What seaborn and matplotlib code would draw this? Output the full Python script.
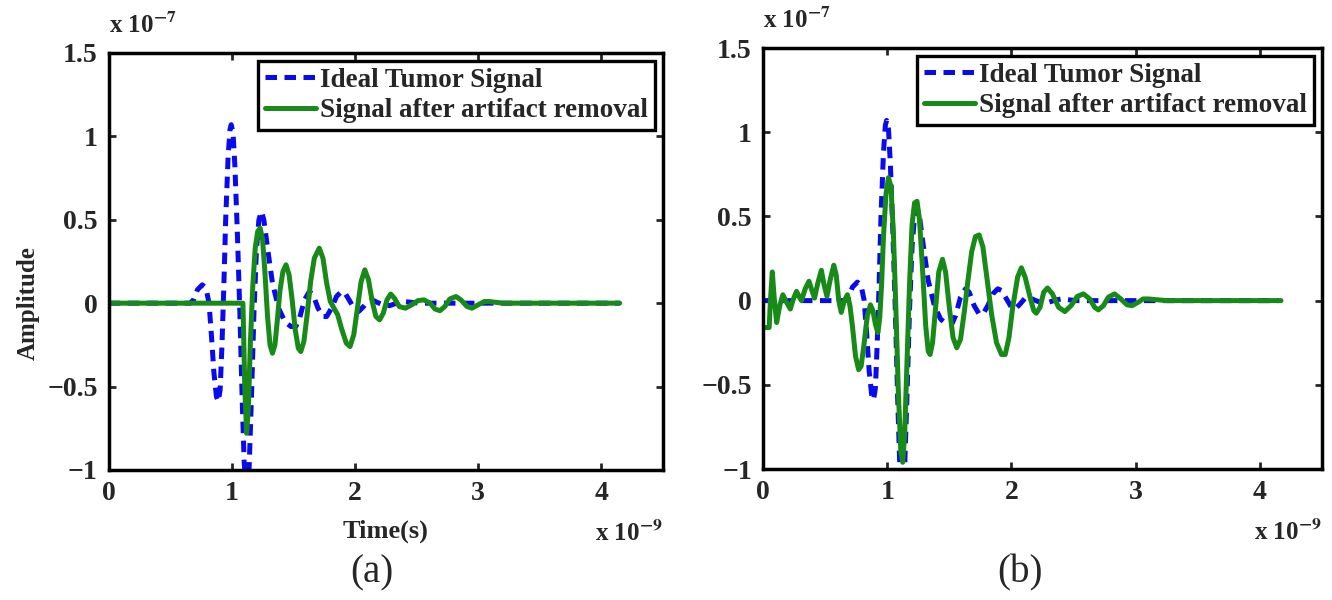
import numpy as np
import pandas as pd
import seaborn as sns
import matplotlib.pyplot as plt

# values (time in 1e-9 s, amplitude in 1e-7)
ideal_t = [0.00, 0.66, 0.69, 0.72, 0.76, 0.79, 0.815, 0.835, 0.855, 0.875, 0.89, 0.905,
           0.92, 0.935, 0.95, 0.97, 0.985, 0.995, 1.01, 1.025, 1.045, 1.065, 1.085, 1.10,
           1.12, 1.14, 1.16, 1.18, 1.20, 1.22, 1.24, 1.26, 1.29, 1.33, 1.38, 1.43,
           1.48, 1.52, 1.55, 1.59, 1.63, 1.66, 1.70, 1.74, 1.77, 1.81, 1.85, 1.89,
           1.92, 1.96, 2.00, 2.03, 2.07, 2.11, 2.14, 2.18, 2.23, 2.28, 2.34, 2.40,
           2.46, 2.52, 4.15]
ideal_a = [0, 0, 0.02, 0.08, 0.11, 0.09, 0.0, -0.20, -0.42, -0.56, -0.59, -0.52,
           -0.25, 0.10, 0.50, 0.88, 1.04, 1.07, 1.02, 0.82, 0.42, -0.05, -0.60, -0.95,
           -1.15, -1.00, -0.55, -0.05, 0.32, 0.50, 0.55, 0.50, 0.33, 0.12, -0.03, -0.11,
           -0.14, -0.14, -0.09, 0.02, 0.07, 0.05, -0.03, -0.08, -0.08, -0.03, 0.04, 0.07,
           0.06, 0.01, -0.04, -0.05, -0.02, 0.015, 0.02, 0.005, -0.01, -0.015, 0.0, 0.01,
           0.005, 0.0, 0.0]

clean_a_t = [0.00, 1.09, 1.095, 1.105, 1.12, 1.135, 1.15, 1.17, 1.19, 1.21, 1.23, 1.25,
             1.27, 1.29, 1.31, 1.33, 1.35, 1.37, 1.39, 1.415, 1.44, 1.465, 1.49, 1.515,
             1.54, 1.56, 1.585, 1.61, 1.64, 1.67, 1.71, 1.74, 1.77, 1.80, 1.83, 1.86,
             1.89, 1.93, 1.96, 1.99, 2.02, 2.05, 2.08, 2.11, 2.14, 2.17, 2.20, 2.23,
             2.26, 2.29, 2.32, 2.36, 2.41, 2.46, 2.51, 2.56, 2.61, 2.65, 2.69, 2.73,
             2.77, 2.82, 2.86, 2.91, 2.95, 3.00, 3.05, 3.09, 3.20, 4.15]
clean_a_v = [0, 0, -0.15, -0.50, -0.78, -0.62, -0.25, 0.10, 0.33, 0.43, 0.45, 0.38,
             0.17, -0.08, -0.25, -0.30, -0.25, -0.10, 0.07, 0.19, 0.23, 0.17, 0.02, -0.16,
             -0.27, -0.29, -0.23, -0.08, 0.13, 0.27, 0.33, 0.27, 0.12, 0.01, -0.03, -0.07,
             -0.15, -0.24, -0.26, -0.19, -0.03, 0.13, 0.20, 0.14, 0.01, -0.08, -0.10, -0.06,
             0.02, 0.055, 0.03, -0.02, -0.03, -0.01, 0.015, 0.02, 0.0, -0.035, -0.045, -0.02,
             0.025, 0.04, 0.02, -0.02, -0.03, -0.01, 0.01, 0.01, 0.0, 0.0]

clean_b_t = [0.00, 0.05, 0.06, 0.075, 0.09, 0.11, 0.135, 0.16, 0.19, 0.22, 0.245, 0.27,
             0.29, 0.31, 0.34, 0.37, 0.39, 0.415, 0.44, 0.47, 0.49, 0.515, 0.54, 0.57,
             0.59, 0.61, 0.63, 0.655, 0.68, 0.70, 0.72, 0.745, 0.77, 0.79, 0.81, 0.84,
             0.865, 0.885, 0.905, 0.925, 0.94, 0.955, 0.97, 0.99, 1.01, 1.03, 1.05, 1.07,
             1.09, 1.11, 1.125, 1.14, 1.16, 1.18, 1.20, 1.22, 1.24, 1.26, 1.285, 1.31,
             1.33, 1.345, 1.365, 1.39, 1.415, 1.445, 1.47, 1.50, 1.53, 1.56, 1.59, 1.62,
             1.65, 1.68, 1.71, 1.74, 1.77, 1.80, 1.84, 1.88, 1.92, 1.95, 1.98, 2.01,
             2.05, 2.08, 2.11, 2.15, 2.18, 2.20, 2.23, 2.26, 2.29, 2.33, 2.38, 2.43,
             2.48, 2.53, 2.58, 2.63, 2.67, 2.70, 2.74, 2.78, 2.83, 2.88, 2.93, 2.97,
             3.02, 3.06, 3.10, 3.25, 4.17]
clean_b_v = [-0.16, -0.16, 0.0, 0.17, 0.02, -0.13, -0.03, 0.035, -0.01, -0.05, 0.01, 0.055,
             0.025, 0.0, 0.07, 0.115, 0.07, 0.015, 0.10, 0.18, 0.10, 0.025, 0.12, 0.21,
             0.15, 0.0, -0.07, 0.0, 0.035, -0.03, -0.15, -0.33, -0.41, -0.39, -0.28, -0.09,
             -0.025, -0.06, -0.14, -0.19, -0.10, 0.10, 0.38, 0.63, 0.73, 0.68, 0.40, -0.05,
             -0.55, -0.90, -0.96, -0.80, -0.35, 0.10, 0.45, 0.58, 0.59, 0.48, 0.18, -0.15,
             -0.30, -0.32, -0.25, -0.04, 0.17, 0.245, 0.17, -0.04, -0.22, -0.28, -0.23, -0.07,
             0.12, 0.29, 0.38, 0.39, 0.32, 0.15, -0.08, -0.25, -0.32, -0.32, -0.22, -0.04,
             0.14, 0.195, 0.14, 0.02, -0.06, -0.075, -0.04, 0.05, 0.075, 0.04, -0.04, -0.065,
             -0.03, 0.025, 0.04, 0.01, -0.04, -0.055, -0.03, 0.02, 0.04, 0.01, -0.025, -0.03,
             -0.01, 0.01, 0.01, 0.0, 0.0]

y_ticks = [-1, -0.5, 0, 0.5, 1, 1.5]
y_ticklabels = ["\u22121", "\u22120.5", "0", "0.5", "1", "1.5"]
x_ticks = [0, 1, 2, 3, 4]

sns.set_style("ticks")
plt.rcParams['font.family'] = ['Liberation Serif', 'DejaVu Serif']
plt.rcParams['font.weight'] = 'bold'
plt.rcParams['mathtext.fontset'] = 'stix'
plt.rcParams['mathtext.default'] = 'bf'

blue = '#0a0aef'
green = '#178a17'

fig = plt.figure(figsize=(13.32, 6.0), dpi=100)
ax_a = fig.add_axes([0.0816, 0.2167, 0.416, 0.695])
ax_b = fig.add_axes([0.5728, 0.2183, 0.4197, 0.7017])

panels = [(ax_a, clean_a_t, clean_a_v), (ax_b, clean_b_t, clean_b_v)]
for ax, ct, cv in panels:
    ideal = pd.DataFrame({"t": ideal_t, "a": ideal_a})
    clean = pd.DataFrame({"t": ct, "a": cv})
    sns.lineplot(data=ideal, x="t", y="a", ax=ax, color=blue, lw=3.6,
                 linestyle=(0, (2.3, 1.5)), sort=False, estimator=None,
                 label="Ideal Tumor Signal")
    sns.lineplot(data=clean, x="t", y="a", ax=ax, color=green, lw=3.6,
                 sort=False, estimator=None, label="Signal after artifact removal")
    ax.set_xlim(0, 4.5)
    ax.set_ylim(-1, 1.5)
    ax.set_xticks(x_ticks)
    ax.set_yticks(y_ticks)
    ax.set_yticklabels(y_ticklabels)
    ax.set_xlabel("")
    ax.set_ylabel("")
    ax.tick_params(direction='in', length=5, width=2, top=True, right=True,
                   labelsize=20, pad=8)
    for lab in ax.get_xticklabels() + ax.get_yticklabels():
        lab.set_fontweight('bold')
    for sp in ax.spines.values():
        sp.set_linewidth(2.5)
        sp.set_color('black')
    leg = ax.legend(loc='upper right', fontsize=19.5, frameon=True, fancybox=False,
                    framealpha=1, edgecolor='black', handlelength=1.9,
                    handletextpad=0.15, borderpad=0.25, labelspacing=0.2,
                    borderaxespad=0.3)
    leg.get_frame().set_linewidth(2.4)
    for txt in leg.get_texts():
        txt.set_fontweight('bold')
    ax.text(0.0, 1.035, r"x 10$^{-7}$", transform=ax.transAxes, fontsize=18,
            fontweight='bold', ha='left', va='bottom')
    ax.text(1.0, -0.12, r"x 10$^{-9}$", transform=ax.transAxes, fontsize=18,
            fontweight='bold', ha='right', va='top')

ax_a.set_xlabel("Time(s)", fontsize=19, fontweight='bold', labelpad=10)
ax_a.set_ylabel("Amplitude", fontsize=18, fontweight='bold')
ax_a.yaxis.set_label_coords(-0.125, 0.40)

fig.text(0.279, 0.03, "(a)", fontsize=28, fontweight='normal', ha='center')
fig.text(0.766, 0.03, "(b)", fontsize=28, fontweight='normal', ha='center')

fig.savefig("out.png", dpi=100, facecolor='white')
